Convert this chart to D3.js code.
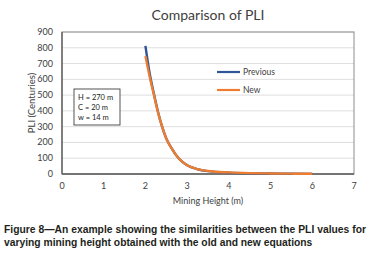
<!DOCTYPE html>
<html>
<head>
<meta charset="utf-8">
<script src="https://cdn.jsdelivr.net/npm/d3@7"></script>
<style>
  body { margin: 0; background: #fff; }
  svg { display: block; }
</style>
</head>
<body>
<svg id="chart" width="372" height="253"></svg>
<script>
// values
const heights  = [2.0, 2.1, 2.2, 2.3, 2.4, 2.5, 2.6, 2.8, 3.0, 3.25, 3.5, 4.0, 4.5, 5.0, 5.5, 6.0]
const previous = [812, 640, 512, 395, 300, 225, 175, 98, 55, 30, 18, 9, 5, 3, 2, 1]
const newer    = [747, 618, 505, 392, 300, 225, 175, 98, 56, 31, 19, 10, 5.5, 3.5, 2.2, 1.5]
const xTicks = [0, 1, 2, 3, 4, 5, 6, 7]
const yTicks = [0, 100, 200, 300, 400, 500, 600, 700, 800, 900]
const series = [
  { name: "Previous", values: previous, color: "#2f5597" },
  { name: "New", values: newer, color: "#ed7d31" }
]
const notes = ["H = 270 m", "C = 20 m", "w = 14 m"]

const svg = d3.select("#chart")
const font = "Lato, 'Open Sans', sans-serif"

const x = d3.scaleLinear().domain([0, 7]).range([62, 354])
const y = d3.scaleLinear().domain([0, 900]).range([174, 32])

// gridlines
svg.append("g").selectAll("line").data(yTicks.slice(1)).enter().append("line")
  .attr("x1", x(0)).attr("x2", x(7))
  .attr("y1", d => y(d)).attr("y2", d => y(d))
  .attr("stroke", "#dedede").attr("stroke-width", 1)

// plot frame
svg.append("rect")
  .attr("x", x(0)).attr("y", y(900))
  .attr("width", x(7) - x(0)).attr("height", y(0) - y(900))
  .attr("fill", "none").attr("stroke", "#8c8c8c").attr("stroke-width", 1)
svg.append("line")
  .attr("x1", x(0)).attr("x2", x(0)).attr("y1", y(900)).attr("y2", y(0))
  .attr("stroke", "#595959").attr("stroke-width", 1.3)
svg.append("line")
  .attr("x1", x(0)).attr("x2", x(7)).attr("y1", y(0)).attr("y2", y(0))
  .attr("stroke", "#595959").attr("stroke-width", 1.3)

// tick labels
svg.append("g").selectAll("text").data(yTicks).enter().append("text")
  .attr("x", 53).attr("y", d => y(d) + 3)
  .attr("text-anchor", "end")
  .attr("font-family", font).attr("font-size", 9).attr("fill", "#404040")
  .text(d => d)

svg.append("g").selectAll("text").data(xTicks).enter().append("text")
  .attr("x", d => x(d)).attr("y", 189)
  .attr("text-anchor", "middle")
  .attr("font-family", font).attr("font-size", 9).attr("fill", "#404040")
  .text(d => d)

// titles
svg.append("text")
  .attr("x", 208).attr("y", 20)
  .attr("text-anchor", "middle")
  .attr("font-family", font).attr("font-size", 14).attr("fill", "#404040")
  .text("Comparison of PLI")

svg.append("text")
  .attr("x", 208).attr("y", 204)
  .attr("text-anchor", "middle")
  .attr("font-family", font).attr("font-size", 9).attr("fill", "#404040")
  .text("Mining Height (m)")

svg.append("text")
  .attr("transform", "translate(35," + y(450) + ") rotate(-90)")
  .attr("text-anchor", "middle")
  .attr("font-family", font).attr("font-size", 9.5).attr("fill", "#404040")
  .text("PLI (Centuries)")

// curves
const line = d3.line()
  .x((d, i) => x(heights[i]))
  .y(d => y(d))
  .curve(d3.curveMonotoneX)

svg.append("g").selectAll("path").data(series).enter().append("path")
  .attr("d", d => line(d.values))
  .attr("fill", "none")
  .attr("stroke", d => d.color)
  .attr("stroke-width", 2.4)

// legend
const legend = svg.append("g").selectAll("g").data(series).enter().append("g")
  .attr("transform", (d, i) => "translate(217," + (72 + i * 18) + ")")
legend.append("line")
  .attr("x1", 0).attr("x2", 23)
  .attr("stroke", d => d.color).attr("stroke-width", 2.2)
legend.append("text")
  .attr("x", 26).attr("y", 3)
  .attr("font-family", font).attr("font-size", 8.5).attr("fill", "#404040")
  .text(d => d.name)

// parameter box
svg.append("rect")
  .attr("x", 74).attr("y", 89).attr("width", 46).attr("height", 36)
  .attr("fill", "#fff").attr("stroke", "#404040").attr("stroke-width", 0.9)
svg.append("g").selectAll("text").data(notes).enter().append("text")
  .attr("x", 78).attr("y", (d, i) => 100 + i * 10)
  .attr("font-family", font).attr("font-size", 7.5).attr("fill", "#222")
  .text(d => d)

// caption
const caption = [
  "Figure 8\u2014An example showing the similarities between the PLI values for",
  "varying mining height obtained with the old and new equations"
]
svg.append("g").selectAll("text").data(caption).enter().append("text")
  .attr("x", 4).attr("y", (d, i) => 233 + i * 12.5)
  .attr("font-family", "'Liberation Sans', Arial, sans-serif")
  .attr("font-weight", "bold").attr("font-size", 10.3).attr("fill", "#231f20")
  .attr("textLength", (d, i) => i === 0 ? 362 : null)
  .text(d => d)
</script>
</body>
</html>
